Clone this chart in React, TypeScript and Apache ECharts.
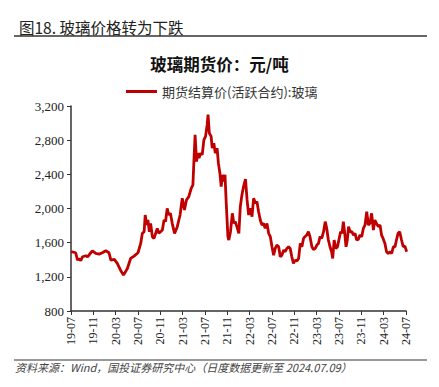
import React, { useEffect, useRef } from "react";
import * as echarts from "echarts";

const dates: string[] = [
  "2019-07-01","2019-07-27","2019-08-06","2019-08-15","2019-08-24","2019-09-03","2019-09-21","2019-09-30","2019-10-18","2019-10-27",
  "2019-11-14","2019-12-02","2019-12-20","2020-01-08","2020-01-26","2020-02-05","2020-02-23","2020-03-10","2020-03-28","2020-04-13",
  "2020-05-04","2020-05-22","2020-06-10","2020-07-01","2020-07-16","2020-07-25","2020-08-04","2020-08-10","2020-08-18","2020-08-25",
  "2020-09-02","2020-09-09","2020-09-18","2020-09-27","2020-10-15","2020-10-24","2020-11-12","2020-11-21","2020-11-29","2020-12-08",
  "2020-12-17","2020-12-26","2021-01-05","2021-01-18","2021-02-02","2021-02-16","2021-02-27","2021-03-11","2021-03-22","2021-04-04",
  "2021-04-17","2021-04-26","2021-05-01","2021-05-08","2021-05-16","2021-05-23","2021-05-30","2021-06-07","2021-06-16","2021-06-25",
  "2021-07-04","2021-07-13","2021-07-18","2021-07-25","2021-08-04","2021-08-10","2021-08-19","2021-08-27","2021-09-06","2021-09-13",
  "2021-09-21","2021-09-28","2021-10-05","2021-10-12","2021-10-19","2021-10-26","2021-11-04","2021-11-09","2021-11-18","2021-11-28",
  "2021-12-06","2021-12-14","2021-12-23","2022-01-03","2022-01-11","2022-01-20","2022-01-29","2022-02-08","2022-02-16","2022-02-24",
  "2022-03-05","2022-03-14","2022-03-23","2022-04-02","2022-04-10","2022-04-19","2022-04-28","2022-05-07","2022-05-16","2022-05-25",
  "2022-06-04","2022-06-13","2022-06-22","2022-07-01","2022-07-10","2022-07-19","2022-07-28","2022-08-07","2022-08-16","2022-08-25",
  "2022-09-04","2022-09-12","2022-09-21","2022-09-30","2022-10-09","2022-10-18","2022-10-27","2022-11-06","2022-11-15","2022-11-24",
  "2022-12-03","2022-12-12","2022-12-21","2022-12-29","2023-01-08","2023-01-17","2023-01-26","2023-02-05","2023-02-13","2023-02-22",
  "2023-03-02","2023-03-11","2023-03-20","2023-03-29","2023-04-08","2023-04-17","2023-04-25","2023-05-04","2023-05-13","2023-05-22",
  "2023-05-28","2023-06-05","2023-06-14","2023-06-23","2023-07-04","2023-07-10","2023-07-18","2023-07-25","2023-08-02","2023-08-09",
  "2023-08-16","2023-08-23","2023-09-01","2023-09-10","2023-09-19","2023-09-27","2023-10-06","2023-10-15","2023-10-24","2023-11-03",
  "2023-11-12","2023-11-21","2023-11-30","2023-12-09","2023-12-18","2023-12-27","2024-01-06","2024-01-14","2024-01-23","2024-02-02",
  "2024-02-11","2024-02-19","2024-02-27","2024-03-08","2024-03-17","2024-03-26","2024-04-05","2024-04-14","2024-04-23","2024-05-02",
  "2024-05-10","2024-05-19","2024-05-28","2024-06-07","2024-06-16","2024-06-25","2024-07-05"
];

const glassPrice: number[] = [
  1494,1482,1396,1415,1388,1435,1447,1435,1482,1505,
  1474,1466,1482,1505,1482,1396,1404,1357,1278,1220,
  1298,1415,1443,1482,1591,1709,1728,1924,1807,1865,
  1728,1826,1670,1650,1768,1709,1748,1865,1846,2002,
  1924,1944,1826,1709,1787,1924,2120,1983,2100,2139,
  2237,2276,2531,2863,2550,2648,2589,2648,2628,2804,
  2844,2981,3098,2883,2844,2707,2765,2648,2707,2531,
  2413,2257,2394,2315,2394,2061,1670,1631,1728,1944,
  1826,1846,1787,1709,2022,2159,2257,2343,2100,1924,
  2002,1904,2120,2061,2081,1963,1865,1807,1826,1768,
  1826,1709,1670,1552,1454,1533,1572,1552,1435,1454,
  1513,1494,1533,1552,1533,1435,1357,1396,1384,1415,
  1591,1552,1650,1670,1689,1728,1670,1552,1521,1533,
  1572,1591,1670,1650,1728,1846,1768,1631,1552,1494,
  1415,1631,1533,1552,1670,1728,1709,1846,1709,1552,
  1631,1787,1728,1728,1689,1709,1631,1638,1689,1670,
  1768,1807,1963,1807,1826,1944,1748,1865,1826,1787,
  1807,1689,1650,1591,1494,1474,1494,1474,1552,1552,
  1631,1709,1728,1631,1552,1560,1494
];

const xTickLabels: string[] = [
  "19-07","19-11","20-03","20-07","20-11","21-03","21-07","21-11",
  "22-03","22-07","22-11","23-03","23-07","23-11","24-03","24-07"
];

const startYear = 2019;
const startMonth = 7;

function monthIndex(d: string): number {
  const [y, m, day] = d.split("-").map(Number);
  const dim = new Date(y, m, 0).getDate();
  return (y - startYear) * 12 + (m - startMonth) + (day - 1) / dim;
}

export default function App() {
  const ref = useRef<HTMLDivElement>(null);
  useEffect(() => {
    if (!ref.current) return;
    const chart = echarts.init(ref.current, undefined, { renderer: "svg" });
    const seriesData = dates.map((d, i) => [monthIndex(d), glassPrice[i]]);
    const serif = "'Liberation Serif', 'DejaVu Serif', serif";
    const cjk = "'Noto Sans CJK SC', sans-serif";
    chart.setOption({
      animation: false,
      backgroundColor: "#ffffff",
      title: [
        {
          text: "图18. 玻璃价格转为下跌",
          left: 14,
          top: 14,
          textStyle: { fontFamily: cjk, fontSize: 15.5, fontWeight: "normal", color: "#222" },
        },
        {
          text: "玻璃期货价：元/吨",
          left: "center",
          top: 51,
          textStyle: { fontFamily: cjk, fontSize: 16.5, fontWeight: "bold", color: "#111" },
        },
      ],
      legend: {
        top: 80,
        left: 121,
        itemWidth: 31,
        itemHeight: 3,
        itemGap: 5,
        icon: "rect",
        textStyle: { fontFamily: cjk, fontSize: 13, color: "#333" },
        data: [{ name: "期货结算价(活跃合约):玻璃", icon: "rect" }],
      },
      grid: { left: 71, right: 33, top: 106, bottom: 76 },
      xAxis: {
        type: "value",
        min: 0,
        max: 60,
        interval: 4,
        splitLine: { show: false },
        axisLine: { lineStyle: { color: "#333", width: 1.5 } },
        axisTick: { show: true, length: 4, lineStyle: { color: "#333" } },
        axisLabel: {
          rotate: 90,
          margin: 6,
          fontFamily: serif,
          fontSize: 12,
          color: "#222",
          formatter: (v: number) => xTickLabels[Math.round(v / 4)] ?? "",
        },
      },
      yAxis: {
        type: "value",
        min: 800,
        max: 3200,
        interval: 400,
        splitLine: { show: false },
        axisLine: { show: true, lineStyle: { color: "#333", width: 1.5 } },
        axisTick: { show: true, length: 4, lineStyle: { color: "#333" } },
        axisLabel: {
          margin: 7,
          fontFamily: serif,
          fontSize: 13,
          color: "#222",
          formatter: (v: number) => v.toLocaleString("en-US"),
        },
      },
      series: [
        {
          name: "期货结算价(活跃合约):玻璃",
          type: "line",
          data: seriesData,
          showSymbol: false,
          symbol: "none",
          lineStyle: { color: "#c00000", width: 2.8 },
          itemStyle: { color: "#c00000" },
        },
      ],
      graphic: [
        {
          type: "line",
          shape: { x1: 14, y1: 36, x2: 427, y2: 36 },
          style: { stroke: "#333", lineWidth: 1.5 },
        },
        {
          type: "line",
          shape: { x1: 14, y1: 360, x2: 427, y2: 360 },
          style: { stroke: "#333", lineWidth: 1.2 },
        },
        {
          type: "text",
          left: 15,
          top: 361,
          style: {
            text: "资料来源：Wind，国投证券研究中心（日度数据更新至 2024.07.09）",
            font: "italic 11px 'Noto Sans CJK SC', sans-serif",
            fill: "#444",
          },
        },
      ],
    });
    return () => chart.dispose();
  }, []);
  return (
    <div
      ref={ref}
      style={{ position: "fixed", left: 0, top: 0, width: 439, height: 387 }}
    />
  );
}
